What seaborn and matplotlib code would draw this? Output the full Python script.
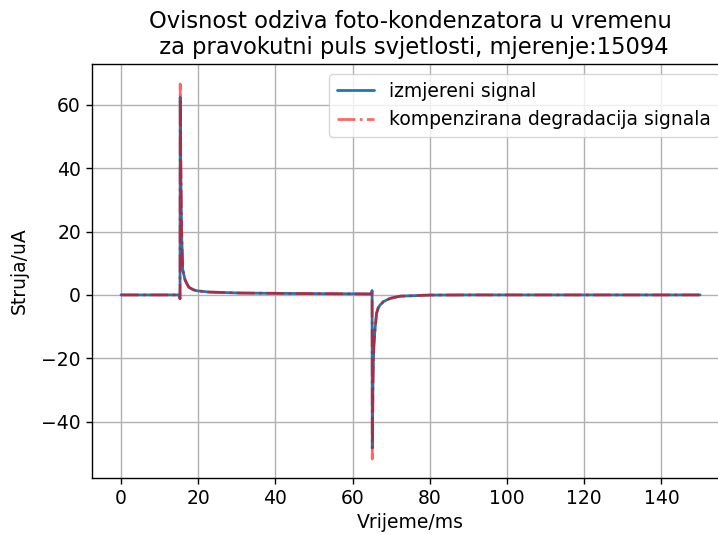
import matplotlib
matplotlib.use("Agg")
import matplotlib.pyplot as plt
import seaborn as sns
import pandas as pd

# Time axis (ms) and current readings (uA) for the measured signal
t_ms = [0, 5, 10, 15.0, 15.3, 15.35, 15.5, 15.7, 16.0, 16.6, 17.1, 17.6,
        18.8, 19.7, 22.8, 31, 45, 60, 64.9, 65.05, 65.1, 65.3, 65.5, 65.8,
        66.2, 66.6, 67.1, 68.0, 69.7, 72.3, 76.6, 80, 90, 100, 120, 150]
measured = [0, 0, 0, 0, -1.2, 62.4, 40, 20, 8, 4.7, 3.5, 2.4,
            1.6, 1.3, 0.9, 0.6, 0.45, 0.35, 0.3, 1.4, -48.3, -25, -16, -11,
            -5.8, -4.2, -3.2, -2.1, -1.1, -0.4, -0.2, -0.05, 0, 0, 0, 0]
# Signal with the degradation compensated
compensated = [0, 0, 0, 0, -1.2, 66.6, 42, 21, 8.3, 4.8, 3.5, 2.4,
               1.6, 1.3, 0.9, 0.6, 0.45, 0.35, 0.3, 1.4, -51.8, -26.5, -16.5, -11.3,
               -5.9, -4.2, -3.2, -2.1, -1.1, -0.4, -0.2, -0.05, 0, 0, 0, 0]

title = "Ovisnost odziva foto-kondenzatora u vremenu\n za pravokutni puls svjetlosti, mjerenje:15094"
label_measured = "izmjereni signal"
label_comp = "kompenzirana degradacija signala"

sns.set_style("ticks", {"axes.grid": True, "grid.color": "#b0b0b0",
                        "axes.edgecolor": "black", "xtick.direction": "out",
                        "ytick.direction": "out", "text.color": "black",
                        "axes.labelcolor": "black", "xtick.color": "black",
                        "ytick.color": "black"})
plt.rcParams["font.family"] = ["DejaVu Sans"]
plt.rcParams["font.size"] = 13.5
plt.rcParams["xtick.major.size"] = 4.5
plt.rcParams["ytick.major.size"] = 4.5
plt.rcParams["xtick.major.width"] = 1.0
plt.rcParams["ytick.major.width"] = 1.0
plt.rcParams["axes.linewidth"] = 1.0
plt.rcParams["grid.linewidth"] = 1.0

df = pd.DataFrame({"t": t_ms, "measured": measured, "compensated": compensated})

fig = plt.figure(figsize=(7.18, 5.35), dpi=100)
ax = fig.add_axes([92 / 718, 57.3 / 535, (729 - 92) / 718, (477.7 - 64) / 535])

sns.lineplot(data=df, x="t", y="measured", ax=ax, color="#1f77b4",
             linewidth=2, label=label_measured, sort=False)
sns.lineplot(data=df, x="t", y="compensated", ax=ax, color="red", alpha=0.6,
             linewidth=2, linestyle="-.", label=label_comp, sort=False)

ax.set_xlim(-7.5, 157.5)
ax.set_ylim(-57.7, 72.9)
ax.set_xticks([0, 20, 40, 60, 80, 100, 120, 140])
ax.set_yticks([-40, -20, 0, 20, 40, 60])
ax.tick_params(labelsize=13.5, colors="black")
ax.set_xlabel("Vrijeme/ms", fontsize=13.5, color="black")
ax.set_ylabel("Struja/uA", fontsize=13.5, color="black", labelpad=9)
ax.set_title(title, fontsize=16.3, color="black", pad=7)
ax.grid(True, color="#b0b0b0", linewidth=1.0)
for side in ["top", "right", "left", "bottom"]:
    ax.spines[side].set_visible(True)

leg = ax.legend(loc="upper right", fontsize=13.5, frameon=True, framealpha=0.8,
                edgecolor="#cccccc", fancybox=True, borderaxespad=0.55)
for txt in leg.get_texts():
    txt.set_color("black")

fig.savefig("out.png", dpi=100)
